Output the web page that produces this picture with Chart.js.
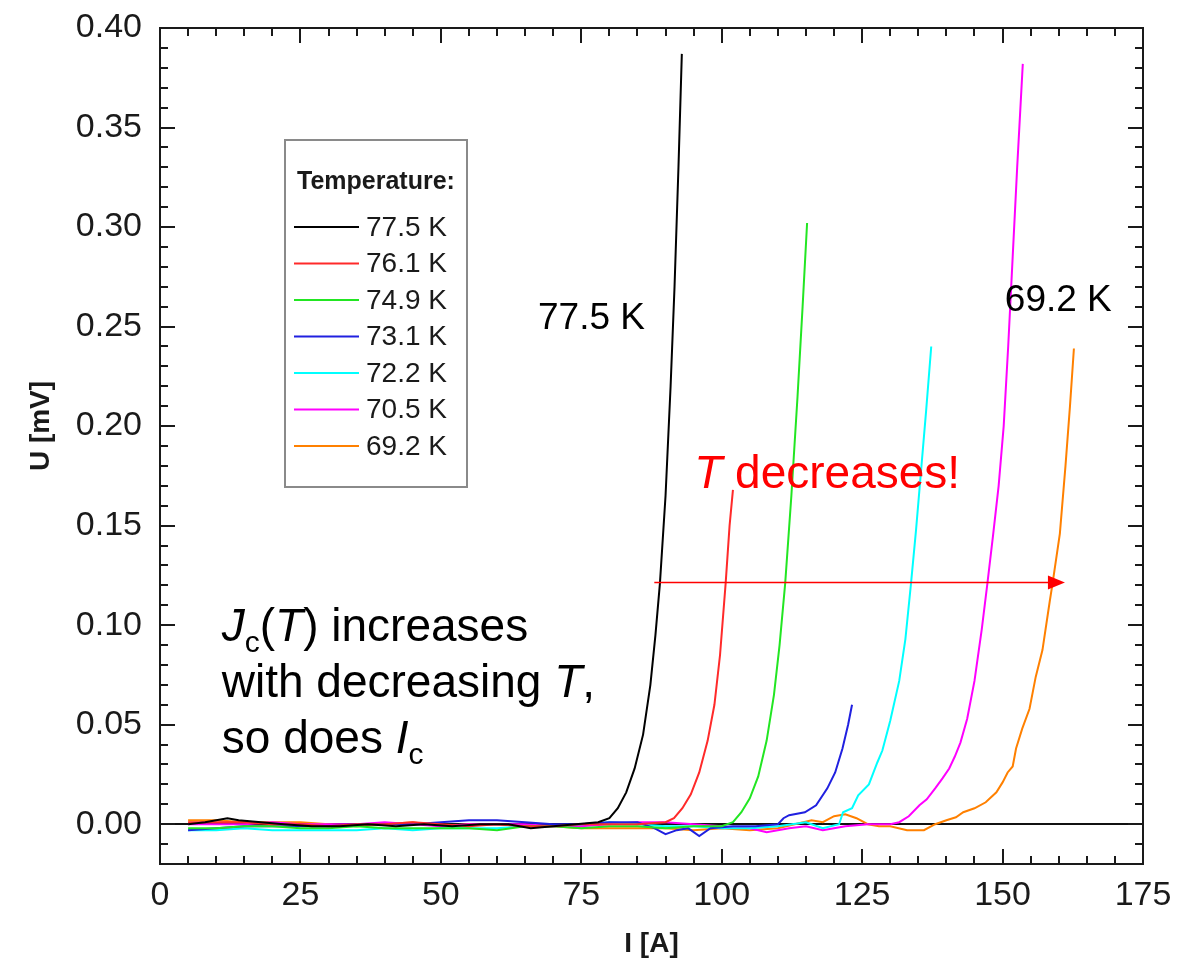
<!DOCTYPE html>
<html>
<head>
<meta charset="utf-8">
<script src="https://cdn.jsdelivr.net/npm/chart.js@4/dist/chart.umd.min.js"></script>
<style>
html,body{margin:0;padding:0;background:#fff;}
canvas{display:block;}
</style>
</head>
<body>
<canvas id="c" width="1189" height="961"></canvas>
<script>
// ---------- data ----------
const SERIES_LABELS = ['77.5 K','76.1 K','74.9 K','73.1 K','72.2 K','70.5 K','69.2 K'];
const SERIES_COLORS = ['#000000','#ff2a2a','#22e622','#2020e0','#00ffff','#ff00ff','#ff8000'];

const I_775 = [5,8,12,14,18,22,27,32,37,42,47,52,57,62,66,70,74,78,80,81.5,83,84.5,86,87.3,88.2,89,90,90.9,91.6,92.3,92.9];
const U_775 = [0.000,0.001,0.003,0.002,0.001,0.000,-0.001,-0.001,0.000,-0.001,0.000,-0.001,0.000,0.000,-0.002,-0.001,0.000,0.001,0.003,0.008,0.016,0.028,0.045,0.070,0.095,0.121,0.165,0.220,0.270,0.330,0.387];

const I_761 = [5,10,15,20,25,30,35,40,45,50,55,60,65,70,75,80,85,90,91.5,93,94.5,96,97.5,98.7,99.7,100.7,101.4,102];
const U_761 = [0.001,0.001,0.001,0.000,0.000,-0.001,0.000,0.000,0.001,0.000,-0.001,0.000,-0.001,-0.001,0.000,0.000,0.000,0.001,0.003,0.008,0.015,0.026,0.042,0.060,0.085,0.121,0.150,0.168];

const I_749 = [5,10,15,20,25,30,35,40,45,50,55,60,65,70,75,80,85,90,95,100,102,103.5,105,106.5,108,109.3,110.3,111.3,112.4,113.5,114.4,115.2];
const U_749 = [-0.002,-0.002,-0.001,-0.001,-0.002,-0.002,-0.001,-0.002,-0.002,-0.002,-0.002,-0.003,-0.001,-0.001,-0.002,-0.001,-0.001,-0.002,-0.001,-0.001,0.001,0.006,0.013,0.024,0.042,0.065,0.090,0.121,0.165,0.215,0.260,0.302];

const I_731 = [5,10,15,20,25,30,35,40,45,50,55,60,65,70,75,80,85,88,90,92,94,96,98,102,106,110,111,112,114.8,116.8,118.8,120.2,121.5,122.5,123.2];
const U_731 = [-0.003,-0.002,-0.001,-0.001,-0.001,-0.001,0.000,0.000,0.000,0.001,0.002,0.002,0.001,0.000,0.000,0.001,0.001,-0.002,-0.005,-0.003,-0.002,-0.006,-0.002,-0.001,-0.001,0.000,0.003,0.0045,0.006,0.0095,0.018,0.026,0.038,0.050,0.060];

const I_722 = [5,10,15,20,25,30,35,40,45,50,55,60,65,70,75,80,85,90,95,100,105,110,115,118,120.9,121.6,123.2,124.3,126.2,127.7,128.6,130,131.6,132.7,133.7,134.6,135.5,136.4,137.3];
const U_722 = [-0.003,-0.003,-0.002,-0.003,-0.003,-0.003,-0.003,-0.002,-0.003,-0.002,-0.002,-0.002,-0.001,-0.001,0.000,0.001,0.000,-0.001,-0.001,-0.002,-0.002,-0.001,0.001,-0.002,0.000,0.006,0.008,0.0145,0.020,0.031,0.037,0.052,0.072,0.093,0.121,0.148,0.178,0.208,0.240];

const I_705 = [5,10,15,20,25,30,35,40,45,50,55,60,65,70,75,80,85,90,95,100,105,108,112,115,118,122,126,130,131.6,133.3,135.2,136.5,138,139.3,140.5,141.5,142.5,143.7,145,146.3,147.3,148.3,149.3,150.2,151,151.8,152.6,153.6];
const U_705 = [0.000,0.000,0.000,0.001,0.000,0.000,0.000,0.001,0.000,-0.001,0.000,0.000,0.000,-0.001,-0.001,0.000,0.001,0.001,0.000,-0.001,-0.002,-0.004,-0.002,-0.001,-0.003,-0.001,0.000,0.000,0.001,0.004,0.0095,0.0125,0.018,0.023,0.028,0.034,0.041,0.053,0.072,0.098,0.121,0.145,0.170,0.200,0.240,0.285,0.330,0.382];

const I_692 = [5,10,15,20,25,30,35,40,45,50,55,60,65,70,75,80,85,90,95,100,105,110,113,116,118,120,122,124,126,128,130,133,136,138,140,141.7,143,145,147,148.9,150,150.9,151.8,152.4,153.5,154.8,155.9,157.1,158.4,158.9,160.2,161.2,162,162.7];
const U_692 = [0.002,0.002,0.001,0.001,0.001,0.000,-0.001,0.000,0.001,-0.001,0.000,0.000,-0.001,-0.001,-0.002,-0.002,-0.002,-0.002,-0.003,-0.002,-0.003,-0.002,0.000,0.002,0.001,0.004,0.005,0.003,0.000,-0.001,-0.001,-0.003,-0.003,0.000,0.002,0.0035,0.006,0.008,0.011,0.016,0.021,0.026,0.029,0.038,0.048,0.058,0.074,0.0875,0.112,0.121,0.146,0.180,0.210,0.239];

const SERIES_I = [I_775, I_761, I_749, I_731, I_722, I_705, I_692];
const SERIES_U = [U_775, U_761, U_749, U_731, U_722, U_705, U_692];

const X_TICKS = [0,25,50,75,100,125,150,175];
const Y_TICKS = [0.00,0.05,0.10,0.15,0.20,0.25,0.30,0.35,0.40];

// annotation positions in data units (I [A], U [mV])
const ARROW_FROM = [88.0, 0.1215];
const ARROW_TO = [161.1, 0.1215];
const LABEL_775_POS = [67.3, 0.249];
const LABEL_692_POS = [150.4, 0.258];
const T_DEC_POS = [95.1, 0.169];
const JC_POS = [11.0, 0.092, 0.0639, 0.0357];

// ---------- chart ----------
const FAM = '"Liberation Sans", Arial, Helvetica, sans-serif';

function drawRich(ctx, x, y, runs, size, color) {
  let cx = x;
  ctx.fillStyle = color;
  ctx.textBaseline = 'alphabetic';
  ctx.textAlign = 'left';
  for (const r of runs) {
    const s = r.sub ? Math.round(size * 0.66) : size;
    ctx.font = (r.it ? 'italic ' : '') + s + 'px ' + FAM;
    ctx.fillText(r.t, cx, y + (r.sub ? size * 0.24 : 0));
    cx += ctx.measureText(r.t).width;
  }
}

const decorPlugin = {
  id: 'decor',
  beforeDatasetsDraw(chart) {
    const {ctx, chartArea: a, scales: {y}} = chart;
    ctx.save();
    ctx.strokeStyle = '#111';
    ctx.lineWidth = 2;
    const y0 = Math.round(y.getPixelForValue(0));
    ctx.beginPath(); ctx.moveTo(a.left, y0); ctx.lineTo(a.right, y0); ctx.stroke();
    ctx.restore();
  },
  afterDatasetsDraw(chart) {
    const {ctx, chartArea: a, scales: {x, y}} = chart;
    ctx.save();
    // frame
    ctx.strokeStyle = '#1a1a1a';
    ctx.lineWidth = 2;
    ctx.strokeRect(a.left, a.top, a.right - a.left, a.bottom - a.top);
    // ticks
    ctx.beginPath();
    for (let k = 0; k <= 35; k++) {
      const v = k * 5;
      const px = Math.round(x.getPixelForValue(v));
      const len = (k % 5 === 0) ? 15 : 8;
      ctx.moveTo(px, a.bottom); ctx.lineTo(px, a.bottom - len);
      ctx.moveTo(px, a.top); ctx.lineTo(px, a.top + len);
    }
    for (let k = -2; k <= 40; k++) {
      const v = k / 100;
      const py = Math.round(y.getPixelForValue(v));
      const len = (k % 5 === 0) ? 15 : 8;
      ctx.moveTo(a.left, py); ctx.lineTo(a.left + len, py);
      ctx.moveTo(a.right, py); ctx.lineTo(a.right - len, py);
    }
    ctx.stroke();

    // axis titles
    ctx.fillStyle = '#1a1a1a';
    ctx.font = 'bold 28px ' + FAM;
    ctx.textAlign = 'center';
    ctx.textBaseline = 'middle';
    ctx.fillText('I [A]', (a.left + a.right) / 2, 944);
    ctx.save();
    ctx.translate(41, 426);
    ctx.rotate(-Math.PI / 2);
    ctx.fillText('U [mV]', 0, 0);
    ctx.restore();

    // legend box
    const lx = 285, ly = 140, lw = 182, lh = 347;
    ctx.fillStyle = '#ffffff';
    ctx.fillRect(lx, ly, lw, lh);
    ctx.strokeStyle = '#8a8a8a';
    ctx.lineWidth = 2;
    ctx.strokeRect(lx, ly, lw, lh);
    ctx.fillStyle = '#1a1a1a';
    ctx.font = 'bold 25px ' + FAM;
    ctx.textAlign = 'left';
    ctx.textBaseline = 'middle';
    ctx.fillText('Temperature:', 297, 182);
    chart.data.datasets.forEach((ds, i) => {
      const ry = 227 + i * 36.5;
      ctx.strokeStyle = ds.borderColor;
      ctx.lineWidth = 2;
      ctx.beginPath(); ctx.moveTo(294, ry); ctx.lineTo(359, ry); ctx.stroke();
      ctx.fillStyle = '#1a1a1a';
      ctx.font = '28px ' + FAM;
      ctx.fillText(ds.label, 366, ry + 1);
    });

    // arrow
    const ax0 = x.getPixelForValue(ARROW_FROM[0]);
    const ax1 = x.getPixelForValue(ARROW_TO[0]);
    const ay = Math.round(y.getPixelForValue(ARROW_FROM[1])) + 0.5;
    ctx.strokeStyle = '#ff0000';
    ctx.fillStyle = '#ff0000';
    ctx.lineWidth = 1.5;
    ctx.beginPath(); ctx.moveTo(ax0, ay); ctx.lineTo(ax1 - 12, ay); ctx.stroke();
    ctx.beginPath(); ctx.moveTo(ax1, ay); ctx.lineTo(ax1 - 17, ay - 7); ctx.lineTo(ax1 - 17, ay + 7); ctx.closePath(); ctx.fill();

    // text annotations
    ctx.font = '37px ' + FAM;
    ctx.fillStyle = '#000';
    ctx.textBaseline = 'alphabetic';
    ctx.textAlign = 'left';
    ctx.fillText('77.5 K', x.getPixelForValue(LABEL_775_POS[0]), y.getPixelForValue(LABEL_775_POS[1]));
    ctx.fillText('69.2 K', x.getPixelForValue(LABEL_692_POS[0]), y.getPixelForValue(LABEL_692_POS[1]));

    drawRich(ctx, x.getPixelForValue(T_DEC_POS[0]), y.getPixelForValue(T_DEC_POS[1]),
      [{t: 'T', it: true}, {t: ' decreases!'}], 46, '#ff0000');

    const jx = x.getPixelForValue(JC_POS[0]);
    drawRich(ctx, jx, y.getPixelForValue(JC_POS[1]),
      [{t: 'J', it: true}, {t: 'c', sub: true}, {t: '('}, {t: 'T', it: true}, {t: ') increases'}], 46, '#000');
    drawRich(ctx, jx, y.getPixelForValue(JC_POS[2]),
      [{t: 'with decreasing '}, {t: 'T', it: true}, {t: ','}], 46, '#000');
    drawRich(ctx, jx, y.getPixelForValue(JC_POS[3]),
      [{t: 'so does '}, {t: 'I', it: true}, {t: 'c', sub: true}], 46, '#000');
    ctx.restore();
  }
};

const datasets = SERIES_LABELS.map((lab, i) => ({
  label: lab,
  data: SERIES_I[i].map((v, k) => ({x: v, y: SERIES_U[i][k]})),
  borderColor: SERIES_COLORS[i],
  backgroundColor: SERIES_COLORS[i],
  borderWidth: 2,
  pointRadius: 0,
  showLine: true,
  fill: false,
  tension: 0
}));

new Chart(document.getElementById('c'), {
  type: 'scatter',
  data: {datasets},
  options: {
    responsive: false,
    animation: false,
    devicePixelRatio: 1,
    layout: {padding: {left: 0, right: 46, top: 28, bottom: 0}},
    plugins: {legend: {display: false}, tooltip: {enabled: false}},
    scales: {
      x: {
        type: 'linear', min: 0, max: 175,
        grid: {display: false}, border: {display: false},
        afterBuildTicks: s => { s.ticks = X_TICKS.map(v => ({value: v})); },
        afterFit: s => { s.height = 97; s.paddingLeft = 0; s.paddingRight = 0; },
        ticks: {font: {family: FAM, size: 34}, color: '#1a1a1a', padding: 3, maxRotation: 0, autoSkip: false,
                callback: v => String(v)}
      },
      y: {
        type: 'linear', min: -0.02, max: 0.40,
        grid: {display: false}, border: {display: false},
        afterBuildTicks: s => { s.ticks = Y_TICKS.map(v => ({value: v})); },
        afterFit: s => { s.width = 160; s.paddingTop = 0; s.paddingBottom = 0; },
        ticks: {font: {family: FAM, size: 34}, color: '#1a1a1a', padding: 10, autoSkip: false,
                callback: v => Number(v).toFixed(2)}
      }
    }
  },
  plugins: [decorPlugin]
});
</script>
</body>
</html>
